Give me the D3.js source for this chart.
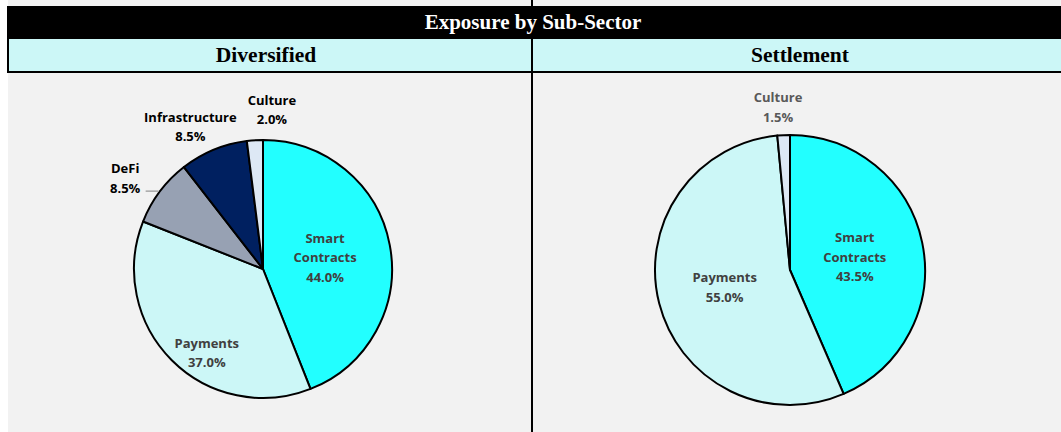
<!DOCTYPE html>
<html>
<head>
<meta charset="utf-8">
<script src="https://cdn.jsdelivr.net/npm/d3@7"></script>
<style>
  body { margin: 0; background: #f2f2f2; }
  svg { display: block; }
</style>
</head>
<body>
<script>
// data
const title = "Exposure by Sub-Sector";
const panels = ["Diversified", "Settlement"];
const categories = ["Smart Contracts", "Payments", "DeFi", "Infrastructure", "Culture"];
const diversified = [44.0, 37.0, 8.5, 8.5, 2.0];
const settlement = [43.5, 55.0, 0, 0, 1.5];

const colors = ["#22ffff", "#ccf7f7", "#97a1b3", "#002060", "#dde8f5"];

const W = 1061, H = 432;
const svg = d3.select("body").append("svg")
  .attr("width", W)
  .attr("height", H);

// background + header bands
svg.append("rect").attr("x", 0).attr("y", 0).attr("width", W).attr("height", H).attr("fill", "#f2f2f2");
svg.append("rect").attr("x", 0).attr("y", 0).attr("width", 8).attr("height", H).attr("fill", "#ffffff");
svg.append("rect").attr("x", 531).attr("y", 0).attr("width", 2).attr("height", H).attr("fill", "#000");
svg.append("rect").attr("x", 7).attr("y", 6).attr("width", W - 7).attr("height", 33).attr("fill", "#000");
svg.append("rect").attr("x", 7).attr("y", 39).attr("width", W - 7).attr("height", 34).attr("fill", "#000");
svg.append("rect").attr("x", 9).attr("y", 39).attr("width", 522).attr("height", 32).attr("fill", "#ccf7f7");
svg.append("rect").attr("x", 533).attr("y", 39).attr("width", W - 533).attr("height", 32).attr("fill", "#ccf7f7");

svg.append("text")
  .attr("x", 533).attr("y", 29)
  .attr("text-anchor", "middle")
  .style("font-family", "'Liberation Serif', serif")
  .style("font-weight", "bold")
  .style("font-size", "21px")
  .attr("fill", "#fff")
  .text(title);

const panelX = [266, 800];
panels.forEach((p, i) => {
  svg.append("text")
    .attr("x", panelX[i]).attr("y", 62)
    .attr("text-anchor", "middle")
    .style("font-family", "'Liberation Serif', serif")
    .style("font-weight", "bold")
    .style("font-size", "21.5px")
    .attr("fill", "#000")
    .text(p);
});

// label placement: radius factor k and angle nudge (degrees)
const placement = [
  { "Smart Contracts": {k: 0.49, da: 0, fill: "#404040"},
    "Payments": {k: 0.78, da: -11, fill: "#404040"},
    "DeFi": {k: 1.28, da: -3.5, fill: "#000", leader: true},
    "Infrastructure": {k: 1.24, da: -4.5, fill: "#000"},
    "Culture": {k: 1.24, da: 6.8, fill: "#000"} },
  { "Smart Contracts": {k: 0.49, da: 0, fill: "#404040"},
    "Payments": {k: 0.5, da: 0, fill: "#404040"},
    "Culture": {k: 1.21, da: -1.5, fill: "#595959"} }
];

const pies = [
  {values: diversified, cx: 263, cy: 269, r: 129},
  {values: settlement, cx: 790, cy: 270, r: 135}
];

const pie = d3.pie().sort(null).value(d => d.value);

pies.forEach((p, pi) => {
  const data = categories.map((c, i) => ({cat: c, value: p.values[i], color: colors[i]}))
    .filter(d => d.value > 0);
  const arcs = pie(data);
  const arc = d3.arc().innerRadius(0).outerRadius(p.r);
  const g = svg.append("g").attr("transform", `translate(${p.cx},${p.cy})`);

  g.selectAll("path").data(arcs).join("path")
    .attr("d", arc)
    .attr("fill", d => d.data.color)
    .attr("stroke", "#000")
    .attr("stroke-width", 2)
    .attr("stroke-linejoin", "round");

  arcs.forEach(a => {
    const pl = placement[pi][a.data.cat];
    const ang = (a.startAngle + a.endAngle) / 2 + pl.da * Math.PI / 180;
    const rr = p.r * pl.k;
    const x = Math.sin(ang) * rr, y = -Math.cos(ang) * rr;
    const lines = (a.data.cat === "Smart Contracts" ? ["Smart", "Contracts"] : [a.data.cat])
      .concat([a.data.value.toFixed(1) + "%"]);
    const lh = 19.5;
    const t = g.append("text")
      .attr("text-anchor", "middle")
      .style("font-family", "'Open Sans', sans-serif")
      .style("font-weight", "bold")
      .style("font-size", "13px")
      .attr("fill", pl.fill);
    lines.forEach((l, li) => {
      t.append("tspan")
        .attr("x", x)
        .attr("y", y + (li - (lines.length - 1) / 2) * lh + 5)
        .text(l);
    });
    if (pl.leader) {
      const mid = (a.startAngle + a.endAngle) / 2;
      const ex = Math.sin(mid) * (p.r - 1), ey = -Math.cos(mid) * (p.r - 1);
      g.append("line")
        .attr("x1", ex - 15).attr("y1", ey - 1)
        .attr("x2", ex - 2).attr("y2", ey - 1)
        .attr("stroke", "#a6a6a6")
        .attr("stroke-width", 1.5);
    }
  });
});
</script>
</body>
</html>
